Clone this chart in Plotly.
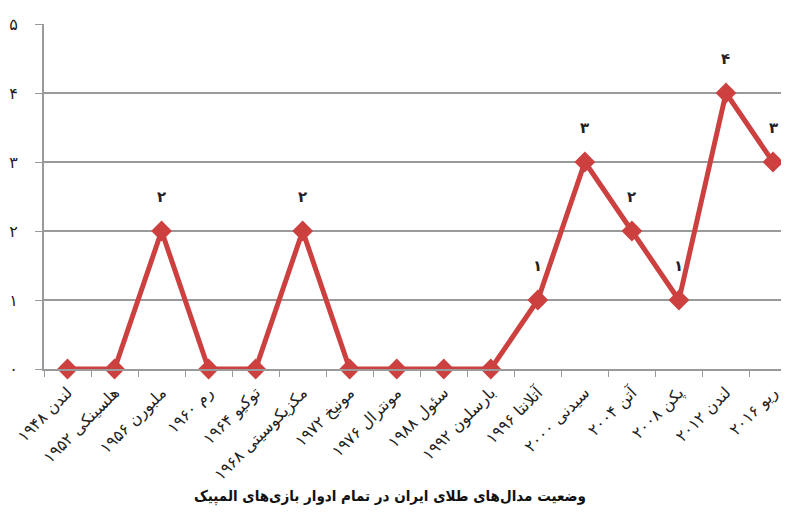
import plotly.graph_objects as go

categories = ["لندن ۱۹۴۸", "هلسینکی ۱۹۵۲", "ملبورن ۱۹۵۶", "رم ۱۹۶۰", "توکیو ۱۹۶۴",
              "مکزیکوسیتی ۱۹۶۸", "مونیخ ۱۹۷۲", "مونترال ۱۹۷۶", "سئول ۱۹۸۸",
              "بارسلون ۱۹۹۲", "آتلانتا ۱۹۹۶", "سیدنی ۲۰۰۰", "آتن ۲۰۰۴", "پکن ۲۰۰۸",
              "لندن ۲۰۱۲", "ریو ۲۰۱۶"]
gold_medals = [0, 0, 2, 0, 0, 2, 0, 0, 0, 0, 1, 3, 2, 1, 4, 3]
y_tick_vals = [0, 1, 2, 3, 4, 5]
y_tick_text = ["۰", "۱", "۲", "۳", "۴", "۵"]
title_text = "وضعیت مدال‌های طلای ایران در تمام ادوار بازی‌های المپیک"

fa_digits = str.maketrans("0123456789", "۰۱۲۳۴۵۶۷۸۹")

FONT = "DejaVu Sans"
FONT_C = "DejaVu Sans Condensed"
RED = "#cc4040"
GRID = "#9a9a9a"

fig = go.Figure()
fig.add_trace(go.Scatter(
    x=categories, y=gold_medals, mode="lines+markers",
    line=dict(color=RED, width=5),
    marker=dict(symbol="diamond", size=16, color=RED),
    cliponaxis=False, showlegend=False,
))

for c, v in zip(categories, gold_medals):
    if v > 0:
        fig.add_annotation(x=c, y=v, text="<b>" + str(v).translate(fa_digits) + "</b>",
                           showarrow=False, yshift=34,
                           font=dict(family=FONT, size=15, color="#222"))

fig.add_annotation(x=0.465, y=-0.371, xref="paper", yref="paper", text="<b>" + title_text + "</b>",
                   showarrow=False, xanchor="center", yanchor="middle",
                   font=dict(family=FONT_C, size=15, color="#111"))

fig.update_layout(
    width=781, height=510,
    margin=dict(l=36, r=0, t=16, b=149),
    paper_bgcolor="white", plot_bgcolor="white",
    font=dict(family=FONT, color="#222"),
    xaxis=dict(type="category", range=[-0.5, 15.34], tickson="boundaries",
               ticks="outside", ticklen=6, tickcolor=GRID, showgrid=False,
               showline=True, linecolor=GRID, linewidth=2, tickangle=-45,
               ticklabelstandoff=6,
               tickfont=dict(family=FONT, size=16, color="#222")),
    yaxis=dict(range=[0, 5], tickvals=y_tick_vals, ticktext=y_tick_text,
               ticks="outside", ticklen=7, tickcolor=GRID, gridcolor=GRID,
               gridwidth=1.5, showline=True, linecolor=GRID, linewidth=2,
               zeroline=False, ticklabelstandoff=14,
               tickfont=dict(family=FONT, size=16, color="#222")),
)

fig.write_html("out.html")
